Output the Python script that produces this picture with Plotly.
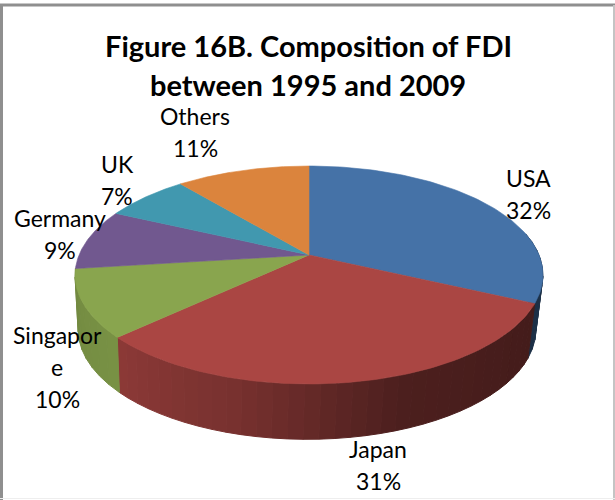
import numpy as np
import plotly.graph_objects as go

# Data
categories = ["USA", "Japan", "Singapore", "Germany", "UK", "Others"]
shares = [32, 31, 10, 9, 7, 11]
title_lines = ["Figure 16B. Composition of FDI", "between 1995 and 2009"]
top_colors = ["#4572a7", "#aa4643", "#89a54e", "#71588f", "#4198af", "#db843d"]

# label layout: category -> (wrapped name lines, x, first-line y)
label_lines = {
    "USA": (["USA"], 528, 178),
    "Japan": (["Japan"], 378, 449),
    "Singapore": (["Singapor", "e"], 57, 335),
    "Germany": (["Germany"], 60, 218),
    "UK": (["UK"], 117, 164),
    "Others": (["Others"], 195, 116),
}
LINE = 32

# Projection of the tilted disc (screen pixels)
K = 0.1834
TOP = dict(cx=309.0, a=230.0, b=105.3, y0=255.0)
BOT = dict(cx=307.0, a=225.0, b=106.0, y0=309.5)


def project(theta, plane):
    u, v = np.sin(theta), np.cos(theta)
    w = 1 + K * v
    return plane["cx"] + u * plane["a"] / w, plane["y0"] - v * plane["b"] / w


def shade(hex_col, f):
    rgb = [int(hex_col[i:i + 2], 16) for i in (1, 3, 5)]
    return "rgb({},{},{})".format(*[int(c * f) for c in rgb])


fracs = np.cumsum([0] + shares) / sum(shares) * 2 * np.pi
fig = go.Figure()


def poly(xs, ys, color, lw=1.0):
    fig.add_trace(go.Scatter(x=xs, y=ys, mode="lines", fill="toself", fillcolor=color,
                             line=dict(color=color, width=lw), hoverinfo="skip", showlegend=False))


# Side wall, in shaded strips, only the front-facing part of the rim
wall_from, wall_to = np.radians(78), np.radians(272)
wall_shades = {
    0: ([0, 1], [0.50, 0.42]),
    1: ([0, 0.4, 0.73, 1], [0.40, 0.45, 0.71, 0.82]),
    2: ([0, 1], [0.88, 0.84]),
}
for i in range(3):
    a0, a1 = max(fracs[i], wall_from), min(fracs[i + 1], wall_to)
    n = 34 if i == 1 else 8
    edges = np.linspace(a0, a1, n + 1)
    knots, vals = wall_shades[i]
    for j in range(n):
        t = np.linspace(edges[j], edges[j + 1], 5)
        x1, y1 = project(t, TOP)
        x2, y2 = project(t[::-1], BOT)
        f = np.interp(j / max(n - 1, 1), knots, vals)
        poly(np.r_[x1, x2, x1[0]], np.r_[y1, y2, y1[0]], shade(top_colors[i], f))

# Top face
for i in range(len(shares)):
    t = np.linspace(fracs[i], fracs[i + 1], 90)
    x, y = project(t, TOP)
    poly(np.r_[TOP["cx"], x, TOP["cx"]], np.r_[TOP["y0"], y, TOP["y0"]], top_colors[i], 0.6)

annotations = []


def txt(s, x, y, size, bold=False):
    annotations.append(dict(text=f"<b>{s}</b>" if bold else s, x=x, y=y, xref="x", yref="y",
                            showarrow=False, xanchor="center", yanchor="middle",
                            font=dict(family="Lato, Carlito, sans-serif", size=size, color="#000000")))


txt(title_lines[0], 308, 45, 29, True)
txt(title_lines[1], 308, 84, 29, True)
for cat, val in zip(categories, shares):
    lines, x, y = label_lines[cat]
    for k, s in enumerate(lines + [f"{val}%"]):
        txt(s, x, y + k * LINE, 23)

# Chart frame
shapes = [
    dict(type="line", x0=0, x1=615, y0=5, y1=5, line=dict(color="#8f8f8f", width=3), xref="x", yref="y"),
    dict(type="line", x0=1.5, x1=1.5, y0=5, y1=500, line=dict(color="#8f8f8f", width=3), xref="x", yref="y"),
    dict(type="line", x0=614, x1=614, y0=5, y1=500, line=dict(color="#c4c4c4", width=2), xref="x", yref="y"),
    dict(type="line", x0=0, x1=615, y0=498.5, y1=498.5, line=dict(color="#eeeeee", width=1), xref="x", yref="y"),
]

fig.update_layout(
    width=615, height=500, margin=dict(l=0, r=0, t=0, b=0),
    paper_bgcolor="white", plot_bgcolor="white", showlegend=False,
    xaxis=dict(range=[0, 615], visible=False, fixedrange=True),
    yaxis=dict(range=[500, 0], visible=False, fixedrange=True),
    annotations=annotations, shapes=shapes,
)
fig.write_html("out.html", config=dict(displayModeBar=False),
               post_script="document.body.style.margin='0';document.body.style.overflow='hidden';")
